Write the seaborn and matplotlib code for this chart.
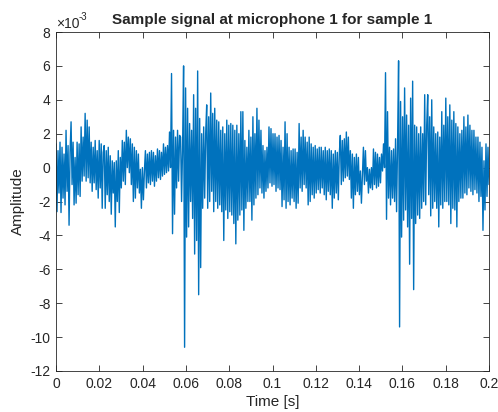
# Sample signal at microphone 1 (MATLAB-style figure) redrawn with seaborn
import numpy as np
import seaborn as sns
import matplotlib.pyplot as plt

# amplitude, in units of 1e-3, roughly one value per pixel column
amp_part1 = [1.4, -2.6, 1.0, -1.5, 1.5, -2.65, 1.2, -1.8, 0.8,
             -2.2, 2.2, -1.4, 1.3, -3.4, 0.9, 2.7, -1.0, 1.5, -2.2, 0.6,
             -2.1, 1.5, -1.6, 1.4, -1.7, 2.4, -0.8, 1.8, -0.5, 3.2,
             -0.8, 2.8, -0.6, 2.4, -0.9, 1.5, -1.4, 1.2, -0.9, 1.6, -1.3, 1.0,
             -1.8, 1.6, -1.2, 1.4, -2.4, 0.9, 1.3, -2.4, 1.0, -1.6, 1.2, -2.0, 0.7,
             -2.75, 0.4, -1.5, 0.3, -3.5, 0.4, -2.0]
amp_part2 = [1.0, -2.65, 0.6, -1.2, 1.6, -0.8, 1.5, -1.0, 2.2, 0.0, 1.8, -0.3,
             1.7, -1.0, 1.4, -2.0, 1.2, -1.8, 1.0, -1.2, 0.8, -1.5,
             -0.1, -2.4, 0.0, -1.9, -0.2, 1.0, -1.2, 0.8, -0.9, 0.9,
             -1.0, 1.0, -0.8, 0.9, -1.1, 0.7, -0.8, 1.1, -0.6, 1.0, -0.7, 0.9, -0.5,
             1.4, -0.4, 1.2, -0.3, 1.3, -0.2, 2.1, 0.0, 5.55, -3.9,
             2.2, -2.75, 1.8, -1.2, 2.2, -0.8, 1.9]
amp_part3 = [1.8, -2.0, 1.2, 6.0, -10.6, 4.7, -4.1, 3.5, -3.5, 2.6, -2.0, 2.2,
             -3.0, 4.3, -5.1, 3.5, -4.3, 5.7, -7.5, 2.9, -5.9, 2.0,
             -2.4, 2.4, -1.8, 2.0, 3.7, -2.4, 3.0, -2.0, 4.4, -1.4, 3.2,
             -2.6, 3.5, -2.0, 2.8, -2.4, 2.7, -2.2, 2.2, -2.6, 2.4, -4.3, 2.0, -2.5,
             2.8, -3.0, 2.5, -2.6, 2.6, -2.8, 2.5, -3.3, 2.2, -4.5,
             2.5, -3.1, 2.0, -2.8, 3.3, -2.5]
amp_part4 = [3.3, -3.7, 1.6, -2.4, 1.2, -2.0, 2.2, -2.0, 1.8, -3.1,
             3.0, -2.2, 2.0, -1.8, 3.5, -1.6, 2.8, -1.2, 2.2, -1.5,
             1.3, -1.8, 1.0, -1.4, 1.2, -1.2, 2.4, -0.9, 2.3, -1.1, 2.0, -1.0,
             2.0, -1.4, 1.8, -1.2, 1.9, -1.3, 1.6, -2.3, 1.2, -1.9,
             2.7, -2.4, 2.0, -2.0, 1.2, -2.2, 1.0, -1.8, 1.1, -2.0,
             1.1, -2.4, 0.9, -2.1, 2.6, -1.2, 1.8, -1.4, 2.2, -1.0]
amp_part5 = [1.8, -1.2, 1.5, -2.2, 1.8, -2.0, 1.4, -1.6, 1.2, -1.8,
             1.3, -1.5, 1.1, -1.3, 1.2, -1.5, 1.2, -1.2, 1.0, -1.6,
             1.2, -1.9, 1.0, -1.4, 1.1, -1.6, 1.0, -2.4, 0.8, -1.8,
             1.0, -1.5, 0.9, -1.9, 0.8, 1.9, -1.0, 1.6, -0.8, 1.7,
             -0.6, 2.1, -0.5, 1.8, -0.7, 1.0, -1.8, 0.8, -2.4, 0.6,
             -1.6, 0.8, -1.4, 0.6, -1.6, -0.2, -2.1, -0.4, 1.2, -1.0, 1.0, -0.8]
amp_part6 = [0.0, -1.5, -0.1, -1.2, 0.0, -1.3, 1.1, -1.0, 0.9, -1.2,
             0.8, -1.1, 0.6, -0.9, 0.8, -0.2, 1.4, 0.0, 5.6, -3.05,
             3.3, -1.8, 1.2, -2.2, 1.0, -1.8, 1.1, -2.0, 1.7, -2.6, 1.4,
             6.3, -9.4, 3.9, -4.1, 3.0, -3.1, 4.7, -2.5, 3.1, -3.5, 2.5,
             -5.7, 4.1, -3.0, 5.1, -7.2, 2.5, -3.3, 2.4, -2.8, 2.0, -3.0,
             2.4, -2.4, 2.0, -2.0, 4.3, -2.2, 2.5]
amp_part7 = [4.3, -1.6, 3.0, -2.85, 4.0, -2.4, 2.4, -2.0, 2.0, -2.4,
             2.1, -3.5, 1.8, -2.2, 3.3, -2.4, 2.5, -2.0, 4.1, -2.0, 3.0, -2.2,
             3.7, -3.3, 2.8, -2.4, 3.3, -2.5, 2.6, -3.5, 2.4, -2.0, 2.0, -1.8, 2.2,
             -1.8, 3.0, -1.5, 2.4, -1.6, 3.1, -1.2, 2.5, -1.4, 2.2,
             -1.6, 2.2, -1.3, 1.8, -1.5, 1.8, -2.0, 1.5, -1.7, 1.2,
             -3.7, 0.4, -2.5, 1.4, -1.7, 1.2, -1.0]

amplitude = np.array(amp_part1 + amp_part2 + amp_part3 + amp_part4 +
                     amp_part5 + amp_part6 + amp_part7)
time = np.linspace(0, 0.2, len(amplitude))

x_ticks = [0, 0.02, 0.04, 0.06, 0.08, 0.1, 0.12, 0.14, 0.16, 0.18, 0.2]
x_labels = ['0', '0.02', '0.04', '0.06', '0.08', '0.1', '0.12', '0.14', '0.16', '0.18', '0.2']
y_ticks = [-12, -10, -8, -6, -4, -2, 0, 2, 4, 6, 8]

sns.set_style("ticks")
plt.rcParams['font.family'] = ['Liberation Sans', 'DejaVu Sans']
plt.rcParams['axes.unicode_minus'] = False

grey = '#262626'
fig = plt.figure(figsize=(4.98, 4.12), dpi=100)
ax = fig.add_axes([56 / 498, 41 / 412, 433 / 498, 339 / 412])

sns.lineplot(x=time, y=amplitude, color='#0072BD', linewidth=1.0, ax=ax)

ax.set_xlim(0, 0.2)
ax.set_ylim(-12, 8)
ax.set_xticks(x_ticks)
ax.set_xticklabels(x_labels)
ax.set_yticks(y_ticks)
ax.set_yticklabels([str(v) for v in y_ticks])
ax.tick_params(direction='in', length=4, width=0.6, colors=grey,
               labelsize=10, top=True, right=True, pad=4)
for s in ax.spines.values():
    s.set_linewidth(0.6)
    s.set_color(grey)

ax.set_xlabel('Time [s]', fontsize=11, color=grey, labelpad=3)
ax.set_ylabel('Amplitude', fontsize=11, color=grey, labelpad=4)
ax.set_title('Sample signal at microphone 1 for sample 1', fontsize=11,
             fontweight='bold', pad=6)
# MATLAB-style exponent label above the y axis
ax.text(0.0, 1.004, '\u00d710', transform=ax.transAxes,
        ha='left', va='bottom', fontsize=10, color=grey)
ax.text(0.051, 1.03, '-3', transform=ax.transAxes,
        ha='left', va='bottom', fontsize=7, color=grey)

plt.savefig('out.png', dpi=100)
